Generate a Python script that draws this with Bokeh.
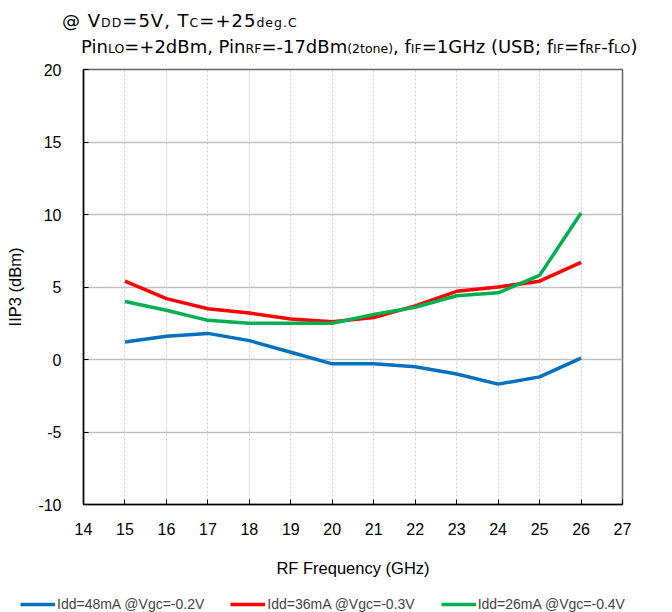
from bokeh.plotting import figure
from bokeh.models import Div, Legend, LegendItem, FixedTicker, Range1d
from bokeh.layouts import column
from bokeh.embed import file_html
from bokeh.resources import INLINE

freq = [15, 16, 17, 18, 19, 20, 21, 22, 23, 24, 25, 26]
iip3_48mA = [1.2, 1.6, 1.8, 1.3, 0.5, -0.3, -0.3, -0.5, -1.0, -1.7, -1.2, 0.1]
iip3_36mA = [5.4, 4.2, 3.5, 3.2, 2.8, 2.6, 2.9, 3.7, 4.7, 5.0, 5.4, 6.7]
iip3_26mA = [4.0, 3.4, 2.7, 2.5, 2.5, 2.5, 3.1, 3.6, 4.4, 4.6, 5.8, 10.1]
labels = ["Idd=48mA @Vgc=-0.2V", "Idd=36mA @Vgc=-0.3V", "Idd=26mA @Vgc=-0.4V"]
colors = ["#0070C0", "#FF0000", "#00B050"]
x_ticks = list(range(14, 28))
y_ticks = [-10, -5, 0, 5, 10, 15, 20]
series = [iip3_48mA, iip3_36mA, iip3_26mA]

FONT = "'Liberation Sans', Arial, sans-serif"
TFONT = "'DejaVu Sans', Verdana, sans-serif"

sub = '<span style="font-size:12.5px;">%s</span>'
title_html = (
    '<div style="font-family:%s; font-size:18px; color:#000; line-height:24px; '
    'white-space:nowrap; padding-top:9px;">'
    '<div style="padding-left:62px; letter-spacing:1px;">@ V' + sub % 'DD' + '=5V, T' + sub % 'C' + '=+25' + sub % 'deg.C' + '</div>'
    '<div style="padding-left:81px;">Pin' + sub % 'LO' + '=+2dBm, Pin' + sub % 'RF' + '=-17dBm' + sub % '(2tone)'
    + ', f' + sub % 'IF' + '=1GHz (USB; f' + sub % 'IF' + '=f' + sub % 'RF' + '-f' + sub % 'LO' + ')</div>'
    '</div>'
) % TFONT

div = Div(text=title_html, width=672, height=56, margin=(0, 0, 0, 0))

p = figure(width=672, height=530, output_backend="svg", toolbar_location=None,
           x_range=Range1d(14, 27), y_range=Range1d(-10, 20),
           min_border_left=83, min_border_right=50, min_border_top=13, min_border_bottom=82,
           margin=(0, 0, 0, 0))

p.outline_line_color = "#666666"
p.outline_line_width = 1.5

for ax in (p.xaxis[0], p.yaxis[0]):
    ax.axis_line_color = "#000000"
    ax.axis_line_width = 1.5
    ax.major_tick_in = 5
    ax.major_tick_out = 0
    ax.minor_tick_line_color = None
    ax.major_tick_line_color = "#000000"
    ax.major_label_text_font = FONT
    ax.major_label_text_font_size = "16px"
    ax.major_label_text_color = "#000000"
    ax.axis_label_text_font = FONT
    ax.axis_label_text_font_size = "16.5px"
    ax.axis_label_text_font_style = "normal"
    ax.axis_label_text_color = "#000000"

p.xaxis.ticker = FixedTicker(ticks=x_ticks)
p.yaxis.ticker = FixedTicker(ticks=y_ticks)
p.yaxis.major_label_overrides = {t: str(t) for t in y_ticks}
p.xaxis.axis_label = "RF Frequency (GHz)"
p.yaxis.axis_label = "IIP3 (dBm)"
p.xaxis.major_label_standoff = 18
p.yaxis.major_label_standoff = 22
p.xaxis.axis_label_standoff = 21
p.yaxis.axis_label_standoff = 11

p.ygrid.grid_line_color = "#BFBFBF"
p.ygrid.grid_line_width = 1.5
p.xgrid.grid_line_color = "#CCCCCC"
p.xgrid.grid_line_width = 1
p.xgrid.grid_line_dash = "2 2"

for ys, c in zip(series, colors):
    p.line(freq, ys, line_color=c, line_width=3.5)

# legend strip below the chart (separate root so its frame spans the full width)
pl = figure(width=672, height=26, output_backend="svg", toolbar_location=None,
            x_range=Range1d(0, 1), y_range=Range1d(0, 1),
            min_border=0, min_border_left=0, min_border_right=0,
            min_border_top=0, min_border_bottom=0, margin=(0, 0, 0, 0))
pl.axis.visible = False
pl.grid.visible = False
pl.outline_line_color = None
# same series, outside this strip's view: only their legend glyphs show
leg_renderers = [pl.line(freq, ys, line_color=c, line_width=3.5) for ys, c in zip(series, colors)]
legend = Legend(items=[LegendItem(label=l, renderers=[r]) for l, r in zip(labels, leg_renderers)],
                orientation="horizontal", location=(20, 0),
                glyph_width=35, glyph_height=16, label_height=16, label_standoff=2,
                spacing=26, padding=0, margin=0,
                border_line_alpha=0, background_fill_alpha=0,
                label_text_font=FONT, label_text_font_size="14px")
pl.add_layout(legend, "center")

layout = column(div, p, spacing=0)
open("out.html", "w").write(file_html([layout, pl], INLINE))
